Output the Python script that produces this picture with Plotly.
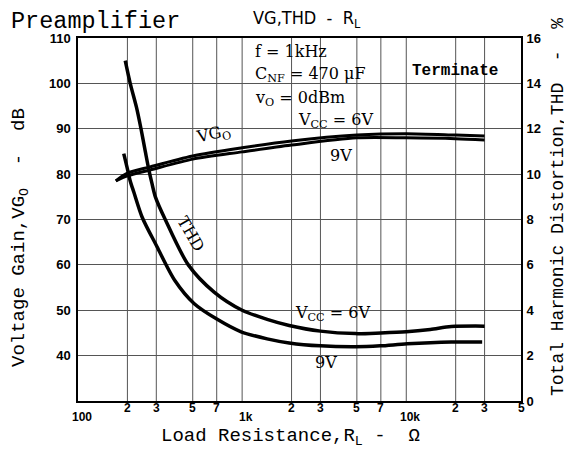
import math
import plotly.graph_objects as go

# ---------------- data ----------------
r_vg = [170, 200, 275, 500, 1000, 2000, 5000, 10000, 20000, 30000]
vg_6v = [78.5, 80.2, 81.6, 84.0, 85.8, 87.3, 88.6, 88.9, 88.6, 88.4]
vg_9v = [78.5, 79.6, 80.9, 83.3, 84.9, 86.4, 88.0, 88.0, 87.8, 87.5]

r_thd6 = [194, 208, 227, 242, 257, 270, 282, 296, 340, 470, 675, 1000, 1420, 1935,
          3000, 4900, 7000, 10000, 14000, 18800, 30000]
thd_6v = [15.0, 14.0, 12.95, 12.0, 11.0, 10.2, 9.6, 9.0, 8.0, 6.0, 4.8, 4.0, 3.6, 3.33,
          3.08, 2.97, 3.0, 3.05, 3.15, 3.28, 3.3]

r_thd9 = [190, 199, 208, 219, 246, 303, 390, 509, 705, 986, 1420, 1935, 2990, 4890,
          6940, 10140, 18800, 29000]
thd_9v = [10.9, 10.3, 9.7, 9.2, 8.1, 6.8, 5.3, 4.3, 3.6, 3.05, 2.74, 2.56, 2.43, 2.39,
          2.43, 2.52, 2.6, 2.6]

x_tick_vals = [100, 200, 300, 500, 700, 1000, 2000, 3000, 5000, 7000, 10000, 20000, 30000, 50000]
x_tick_text = ["100", "2", "3", "5", "7", "1k", "2", "3", "5", "7", "10k", "2", "3", "5"]
x_major = [100, 1000, 10000]
grid_x = [200, 300, 500, 700, 1000, 2000, 3000, 5000, 7000, 10000, 20000, 30000]

y_left_ticks = [40, 50, 60, 70, 80, 90, 100, 110]
y_right_ticks = [0, 2, 4, 6, 8, 10, 12, 14, 16]

# ---------------- layout geometry ----------------
# the page body has an 8px margin, so the figure is drawn 8px in from the top-left corner
OFF = 8
PAGE_W, PAGE_H = 572, 451
PL, PT, PR, PB = 78, 38, 521, 401          # plot box in page pixels
W, H = PAGE_W - OFF, PAGE_H - OFF
L, T = PL - OFF, PT - OFF
R, B = PAGE_W - PR, PAGE_H - PB
PW, PH = PR - PL, PB - PT


def px(x, y):
    return (x - PL) / PW, (PB - y) / PH


MONO = "Liberation Mono, Courier New, monospace"
SERIF = "DejaVu Serif, Liberation Serif, serif"
TICKF = dict(family="Liberation Sans Narrow, Liberation Sans, Arial", size=13, color="black", weight="bold")

fig = go.Figure()
line_common = dict(color="black", shape="spline", smoothing=0.8)
fig.add_trace(go.Scatter(x=r_vg, y=vg_6v, mode="lines", line=dict(width=3, **line_common), yaxis="y"))
fig.add_trace(go.Scatter(x=r_vg, y=vg_9v, mode="lines", line=dict(width=3, **line_common), yaxis="y"))
fig.add_trace(go.Scatter(x=r_thd6, y=thd_6v, mode="lines", line=dict(width=3.5, **line_common), yaxis="y2"))
fig.add_trace(go.Scatter(x=r_thd9, y=thd_9v, mode="lines", line=dict(width=3.5, **line_common), yaxis="y2"))

# vertical grid lines
for gx in grid_x:
    fig.add_shape(type="line", xref="x", yref="paper", x0=gx, x1=gx, y0=0, y1=1,
                  line=dict(color="#555", width=1), layer="below")

annotations = []
# x tick labels
for v, t in zip(x_tick_vals, x_tick_text):
    major = v in x_major
    annotations.append(dict(x=math.log10(v), xref="x", y=0, yref="paper", text=t,
                            showarrow=False, xanchor="center", yanchor="middle",
                            yshift=-(16 if major else 7), xshift=(4 if major else 0),
                            font=dict(family=TICKF["family"], size=12,
                                      color="black", weight="bold")))


def add_text(x, y, text, font, xanchor="left", angle=0):
    ax, ay = px(x, y)
    annotations.append(dict(x=ax, y=ay, xref="paper", yref="paper", text=text, showarrow=False,
                            xanchor=xanchor, yanchor="middle", textangle=angle, font=font,
                            borderpad=0))


add_text(10, 21, "Preamplifier", dict(family=MONO, size=23.5, color="black"))
add_text(252, 19, "VG,THD  -  R<sub>L</sub>", dict(family="Liberation Sans Narrow, DejaVu Sans Condensed, Arial", size=18, color="black"))
add_text(290, 437, "Load Resistance,R<sub>L</sub> -  Ω", dict(family=MONO, size=19, color="black"), xanchor="center")
add_text(20, 238, "Voltage Gain,VG<sub>O</sub>  -  dB", dict(family=MONO, size=19, color="black"), xanchor="center", angle=-90)
add_text(558, 207, "Total Harmonic Distortion,THD  -  %", dict(family=MONO, size=18, color="black"), xanchor="center", angle=-90)

SF = dict(family=SERIF, size=16, color="black")
add_text(254, 52, "f = 1kHz", SF)
add_text(254, 74, "C<sub>NF</sub> = 470 μF", SF)
add_text(254, 98, "v<sub>O</sub> = 0dBm", SF)
add_text(411, 71, "Terminate", dict(family=MONO, size=16, color="black", weight="bold"))
add_text(297, 121, "V<sub>CC</sub> = 6V", SF)
add_text(341, 155, "9V", SF, xanchor="center")
add_text(213, 134, "VG<sub>O</sub>", SF, xanchor="center", angle=-12)
add_text(191, 233, "THD", SF, xanchor="center", angle=60)
add_text(294, 313, "V<sub>CC</sub> = 6V", SF)
add_text(326, 362, "9V", SF, xanchor="center")

fig.update_layout(
    width=W, height=H,
    margin=dict(l=L, r=R, t=T, b=B, autoexpand=False),
    paper_bgcolor="white", plot_bgcolor="white",
    showlegend=False,
    annotations=annotations,
    xaxis=dict(type="log", range=[2, math.log10(50000)], showgrid=False,
               tickvals=x_tick_vals, showticklabels=False, ticks="", automargin=False,
               showline=True, linecolor="black", linewidth=1.5, mirror=True, zeroline=False),
    yaxis=dict(range=[30, 110], tickvals=y_left_ticks, showgrid=True, gridcolor="#555", gridwidth=1,
               showline=True, linecolor="black", linewidth=1.5, mirror=True, zeroline=False,
               automargin=False,
               ticks="outside", ticklen=3, tickcolor="rgba(0,0,0,0)", tickfont=TICKF),
    yaxis2=dict(range=[0, 16], tickvals=y_right_ticks, overlaying="y", side="right", showgrid=False,
                zeroline=False, ticks="outside", ticklen=2, tickcolor="rgba(0,0,0,0)", tickfont=TICKF,
                automargin=False),
)

fig.write_html("out.html")
